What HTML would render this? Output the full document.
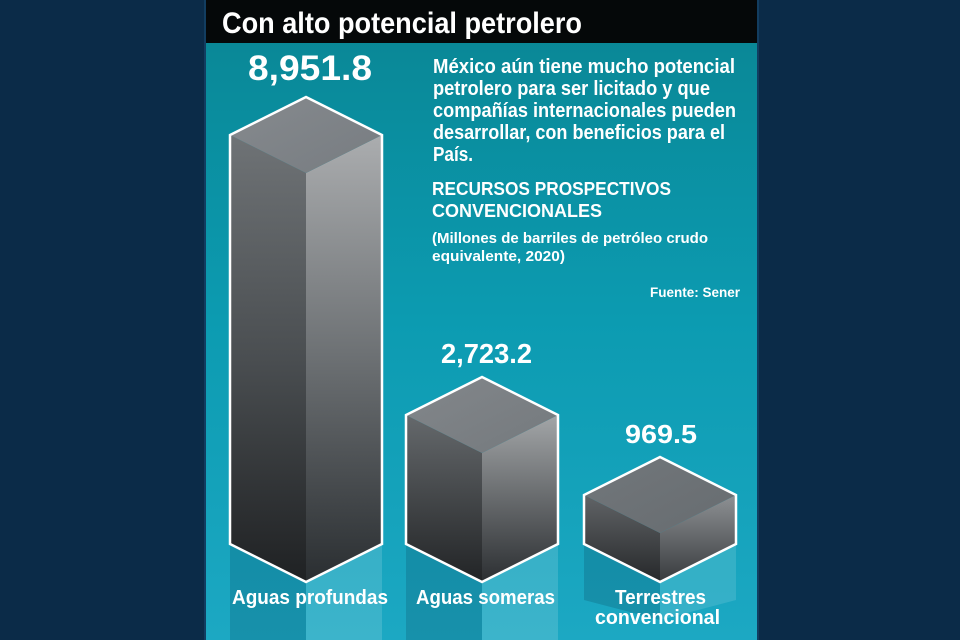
<!DOCTYPE html>
<html>
<head>
<meta charset="utf-8">
<style>
  html,body{margin:0;padding:0;background:#0b2b48;}
  body{width:960px;height:640px;overflow:hidden;}
  svg{display:block;}
  text{font-family:"Liberation Sans",Arial,sans-serif;font-weight:bold;fill:#ffffff;}
</style>
</head>
<body>
<svg width="960" height="640" viewBox="0 0 960 640" xmlns="http://www.w3.org/2000/svg">
  <defs>
    <linearGradient id="panel" x1="0" y1="0" x2="0" y2="1">
      <stop offset="0" stop-color="#098593"/>
      <stop offset="0.5" stop-color="#0c9bb1"/>
      <stop offset="1" stop-color="#1ca8c3"/>
    </linearGradient>
    <!-- bar 1 -->
    <linearGradient id="l1" x1="0" y1="0" x2="0" y2="1">
      <stop offset="0" stop-color="#6f7376"/>
      <stop offset="0.5" stop-color="#4a4e51"/>
      <stop offset="1" stop-color="#1f2123"/>
    </linearGradient>
    <linearGradient id="r1" x1="0" y1="0" x2="0" y2="1">
      <stop offset="0" stop-color="#abadaf"/>
      <stop offset="0.5" stop-color="#6c7073"/>
      <stop offset="1" stop-color="#2a2e31"/>
    </linearGradient>
    <linearGradient id="t1" x1="0" y1="0" x2="1" y2="1">
      <stop offset="0" stop-color="#868a8e"/>
      <stop offset="1" stop-color="#777c81"/>
    </linearGradient>
    <!-- bar 2 -->
    <linearGradient id="l2" x1="0" y1="0" x2="0" y2="1">
      <stop offset="0" stop-color="#65696c"/>
      <stop offset="1" stop-color="#222426"/>
    </linearGradient>
    <linearGradient id="r2" x1="0" y1="0" x2="0" y2="1">
      <stop offset="0" stop-color="#a3a6a8"/>
      <stop offset="1" stop-color="#2c2f32"/>
    </linearGradient>
    <linearGradient id="t2" x1="0" y1="0" x2="1" y2="1">
      <stop offset="0" stop-color="#83878b"/>
      <stop offset="1" stop-color="#74797d"/>
    </linearGradient>
    <!-- bar 3 -->
    <linearGradient id="l3" x1="0" y1="0" x2="0" y2="1">
      <stop offset="0" stop-color="#616467"/>
      <stop offset="1" stop-color="#26282a"/>
    </linearGradient>
    <linearGradient id="r3" x1="0" y1="0" x2="0" y2="1">
      <stop offset="0" stop-color="#8e9194"/>
      <stop offset="1" stop-color="#383b3e"/>
    </linearGradient>
    <linearGradient id="t3" x1="0" y1="0" x2="1" y2="1">
      <stop offset="0" stop-color="#72777b"/>
      <stop offset="1" stop-color="#676c70"/>
    </linearGradient>
  </defs>

  <!-- outer background -->
  <rect x="0" y="0" width="960" height="640" fill="#0b2b48"/>
  <!-- panel -->
  <rect x="206" y="0" width="551" height="640" fill="url(#panel)"/>
  <rect x="757" y="0" width="2" height="640" fill="#123d60"/>
  <rect x="204" y="0" width="2" height="640" fill="#123d60"/>
  <!-- title bar -->
  <rect x="206" y="0" width="551" height="43" fill="#050809"/>
  <text x="222" y="33" font-size="30" textLength="360" lengthAdjust="spacingAndGlyphs">Con alto potencial petrolero</text>

  <!-- reflections -->
  <rect x="230" y="544" width="76" height="96" fill="#0a3f55" fill-opacity="0.22"/>
  <rect x="306" y="544" width="76" height="96" fill="#ffffff" fill-opacity="0.14"/>
  <rect x="406" y="544" width="76" height="96" fill="#0a3f55" fill-opacity="0.22"/>
  <rect x="482" y="544" width="76" height="96" fill="#ffffff" fill-opacity="0.14"/>
  <polygon points="584,544 660,582 660,620 584,600" fill="#0a3f55" fill-opacity="0.22"/>
  <polygon points="660,582 736,544 736,600 660,620" fill="#ffffff" fill-opacity="0.12"/>

  <!-- bar 1 -->
  <polygon points="230,135 306,173 306,582 230,544" fill="url(#l1)"/>
  <polygon points="306,173 382,135 382,544 306,582" fill="url(#r1)"/>
  <polygon points="306,97 382,135 306,173 230,135" fill="url(#t1)"/>
  <polygon points="306,97 382,135 382,544 306,582 230,544 230,135" fill="none" stroke="#ffffff" stroke-width="2.5" stroke-linejoin="miter"/>

  <!-- bar 2 -->
  <polygon points="406,415 482,453 482,582 406,544" fill="url(#l2)"/>
  <polygon points="482,453 558,415 558,544 482,582" fill="url(#r2)"/>
  <polygon points="482,377 558,415 482,453 406,415" fill="url(#t2)"/>
  <polygon points="482,377 558,415 558,544 482,582 406,544 406,415" fill="none" stroke="#ffffff" stroke-width="2.5"/>

  <!-- bar 3 -->
  <polygon points="584,495 660,533 660,582 584,544" fill="url(#l3)"/>
  <polygon points="660,533 736,495 736,544 660,582" fill="url(#r3)"/>
  <polygon points="660,457 736,495 660,533 584,495" fill="url(#t3)"/>
  <polygon points="660,457 736,495 736,544 660,582 584,544 584,495" fill="none" stroke="#ffffff" stroke-width="2.5"/>

  <!-- values -->
  <text x="248" y="80" font-size="35" textLength="124" lengthAdjust="spacingAndGlyphs">8,951.8</text>
  <text x="441" y="363" font-size="28" textLength="91" lengthAdjust="spacingAndGlyphs">2,723.2</text>
  <text x="625" y="443" font-size="26" textLength="72" lengthAdjust="spacingAndGlyphs">969.5</text>

  <!-- description -->
  <text x="433" y="73" font-size="20" textLength="302" lengthAdjust="spacingAndGlyphs">México aún tiene mucho potencial</text>
  <text x="433" y="95" font-size="20" textLength="277" lengthAdjust="spacingAndGlyphs">petrolero para ser licitado y que</text>
  <text x="433" y="117" font-size="20" textLength="303" lengthAdjust="spacingAndGlyphs">compañías internacionales pueden</text>
  <text x="433" y="139" font-size="20" textLength="292" lengthAdjust="spacingAndGlyphs">desarrollar, con beneficios para el</text>
  <text x="433" y="161" font-size="20" textLength="40" lengthAdjust="spacingAndGlyphs">País.</text>

  <text x="432" y="195" font-size="18" textLength="239" lengthAdjust="spacingAndGlyphs">RECURSOS PROSPECTIVOS</text>
  <text x="432" y="217" font-size="18" textLength="170" lengthAdjust="spacingAndGlyphs">CONVENCIONALES</text>
  <text x="432" y="243" font-size="15" textLength="276" lengthAdjust="spacingAndGlyphs">(Millones de barriles de petróleo crudo</text>
  <text x="432" y="261" font-size="15" textLength="133" lengthAdjust="spacingAndGlyphs">equivalente, 2020)</text>
  <text x="650" y="297" font-size="14" textLength="90" lengthAdjust="spacingAndGlyphs">Fuente: Sener</text>

  <!-- labels -->
  <text x="232" y="604" font-size="20" textLength="156" lengthAdjust="spacingAndGlyphs">Aguas profundas</text>
  <text x="416" y="604" font-size="20" textLength="139" lengthAdjust="spacingAndGlyphs">Aguas someras</text>
  <text x="615" y="604" font-size="20" textLength="91" lengthAdjust="spacingAndGlyphs">Terrestres</text>
  <text x="595" y="624" font-size="20" textLength="125" lengthAdjust="spacingAndGlyphs">convencional</text>
</svg>
</body>
</html>
